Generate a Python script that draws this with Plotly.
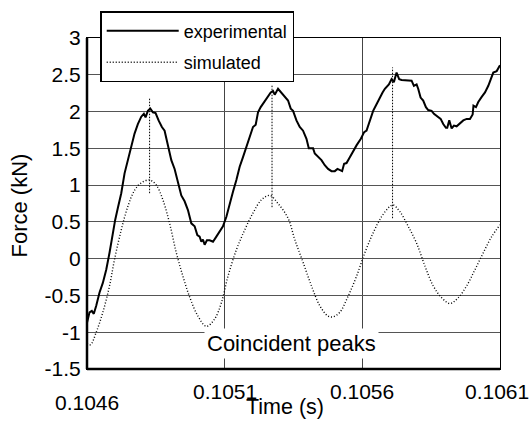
import plotly.graph_objects as go

# ---- data (time in s, force in kN) ----
t_exp = [0.10460, 0.1046091, 0.1046175, 0.1046247, 0.1046335, 0.1046455, 0.1046575, 0.1046698,
         0.1046818, 0.1046938, 0.1047025, 0.1047120, 0.1047244, 0.1047364, 0.1047484, 0.1047607,
         0.1047727, 0.1047847, 0.1047971, 0.1048065, 0.1048127, 0.1048211, 0.1048298, 0.1048393,
         0.1048491, 0.1048600, 0.1048720, 0.1048818, 0.1048938, 0.1049062, 0.1049182, 0.1049302,
         0.1049425, 0.1049545, 0.1049666, 0.1049789, 0.1049909, 0.1050007, 0.1050091, 0.1050153,
         0.1050211, 0.1050273, 0.1050356, 0.1050455, 0.1050575, 0.1050698, 0.1050818, 0.1050938,
         0.1051062, 0.1051182, 0.1051302, 0.1051425, 0.1051545, 0.1051666, 0.1051789, 0.1051909,
         0.1052029, 0.1052127, 0.1052211, 0.1052309, 0.1052429, 0.1052553, 0.1052673, 0.1052756,
         0.1052818, 0.1052938, 0.1053062, 0.1053182, 0.1053302, 0.1053400, 0.1053484, 0.1053607,
         0.1053727, 0.1053847, 0.1053971, 0.1054055, 0.1054211, 0.1054273, 0.1054393, 0.1054516,
         0.1054636, 0.1054756, 0.1054880, 0.1055000, 0.1055098, 0.1055182, 0.1055266, 0.1055338,
         0.1055426, 0.1055546, 0.1055666, 0.1055789, 0.1055946, 0.1056066, 0.1056153, 0.1056273,
         0.1056393, 0.1056516, 0.1056636, 0.1056735, 0.1056818, 0.1056880, 0.1056964, 0.1057062,
         0.1057145, 0.1057244, 0.1057338, 0.1057426, 0.1057546, 0.1057666, 0.1057789, 0.1057873,
         0.1057971, 0.1058029, 0.1058116, 0.1058211, 0.1058309, 0.1058393, 0.1058516, 0.1058600,
         0.1058720, 0.1058844, 0.1058938, 0.1059036, 0.1059084, 0.1059157, 0.1059244, 0.1059327,
         0.1059425, 0.1059546, 0.1059666, 0.1059789, 0.1059909, 0.1060007, 0.1060036, 0.1060127,
         0.1060211, 0.1060335, 0.1060455, 0.1060575, 0.1060698, 0.1060756, 0.1060880, 0.1061000]
f_exp = [-0.87, -0.73, -0.71, -0.75, -0.64, -0.46, -0.33, -0.15,
         0.08, 0.35, 0.53, 0.69, 0.89, 1.16, 1.34, 1.56,
         1.70, 1.83, 1.93, 1.97, 1.92, 2.01, 2.04, 1.99,
         1.98, 1.88, 1.79, 1.74, 1.56, 1.34, 1.22, 1.02,
         0.86, 0.78, 0.66, 0.48, 0.44, 0.32, 0.30, 0.23,
         0.26, 0.19, 0.25, 0.25, 0.23, 0.30, 0.37, 0.44,
         0.57, 0.75, 0.91, 1.07, 1.25, 1.38, 1.52, 1.68,
         1.79, 1.82, 1.99, 2.06, 2.13, 2.20, 2.26, 2.28,
         2.23, 2.31, 2.26, 2.21, 2.15, 2.04, 2.01, 1.88,
         1.79, 1.74, 1.63, 1.50, 1.50, 1.43, 1.38, 1.34,
         1.27, 1.22, 1.19, 1.19, 1.22, 1.21, 1.19, 1.29,
         1.30, 1.38, 1.47, 1.54, 1.63, 1.72, 1.74, 1.88,
         2.01, 2.10, 2.20, 2.26, 2.31, 2.33, 2.37, 2.44,
         2.40, 2.53, 2.44, 2.43, 2.43, 2.42, 2.42, 2.35,
         2.37, 2.31, 2.19, 2.15, 2.06, 2.02, 2.01, 1.97,
         1.93, 1.90, 1.83, 1.78, 1.78, 1.88, 1.77, 1.81,
         1.80, 1.84, 1.88, 1.90, 1.90, 1.96, 2.08, 2.06,
         2.13, 2.20, 2.26, 2.35, 2.46, 2.53, 2.55, 2.63]

t_sim = [0.10460, 0.1046127, 0.1046335, 0.1046575, 0.1046818, 0.1047000, 0.1047244, 0.1047484,
         0.1047727, 0.1047971, 0.1048273, 0.1048516, 0.1048756, 0.1049000, 0.1049244, 0.1049484,
         0.1049727, 0.1050029, 0.1050335, 0.1050636, 0.1050880, 0.1051120, 0.1051425, 0.1051727,
         0.1052029, 0.1052335, 0.1052636, 0.1052938, 0.1053302, 0.1053546, 0.1053847, 0.1054153,
         0.1054455, 0.1054756, 0.1054938, 0.1055182, 0.1055484, 0.1055789, 0.1056091, 0.1056393,
         0.1056698, 0.1057000, 0.1057120, 0.1057364, 0.1057666, 0.1057971, 0.1058273, 0.1058575,
         0.1058880, 0.1059182, 0.1059484, 0.1059789, 0.1060091, 0.1060393, 0.1060698, 0.1061000]
f_sim = [-1.15, -1.17, -1.00, -0.73, -0.37, -0.01, 0.39, 0.71,
         0.93, 1.03, 1.07, 1.00, 0.80, 0.48, 0.08, -0.24,
         -0.52, -0.78, -0.92, -0.82, -0.60, -0.24, 0.12, 0.39,
         0.62, 0.80, 0.86, 0.75, 0.55, 0.26, -0.05, -0.37,
         -0.64, -0.78, -0.79, -0.73, -0.51, -0.24, 0.08, 0.35,
         0.57, 0.71, 0.73, 0.64, 0.44, 0.21, -0.10, -0.37,
         -0.53, -0.61, -0.53, -0.37, -0.15, 0.08, 0.30, 0.46]

# coincident peak markers (time, upper force, lower force)
peak_t = [0.1048273, 0.1052720, 0.1057098]
peak_top = [2.19, 2.37, 2.60]
peak_bot = [0.89, 0.70, 0.55]

x_ticks = [0.1046, 0.1051, 0.1056, 0.1061]
x_tick_text = ["0.1046", "0.1051", "0.1056", "0.1061"]
y_ticks = [-1.5, -1, -0.5, 0, 0.5, 1, 1.5, 2, 2.5, 3]
y_tick_text = ["-1.5", "-1", "-0.5", "0", "0.5", "1", "1.5", "2", "2.5", "3"]

FONT = "Liberation Sans, Arial, sans-serif"

fig = go.Figure()
fig.add_trace(go.Scatter(x=t_exp, y=f_exp, mode="lines", name="experimental",
                         legendgroup="a",
                         line=dict(color="black", width=2)))
fig.add_trace(go.Scatter(x=t_sim, y=f_sim, mode="lines", name="simulated",
                         legendgroup="b",
                         line=dict(color="black", width=1.4, dash="1px,2px", shape="spline")))
for pt, top, bot in zip(peak_t, peak_top, peak_bot):
    fig.add_trace(go.Scatter(x=[pt, pt], y=[bot, top], mode="lines", showlegend=False,
                             hoverinfo="skip",
                             line=dict(color="black", width=1, dash="1.5px,1.5px")))

annotations = []
for i, (tv, tt) in enumerate(zip(x_ticks, x_tick_text)):
    annotations.append(dict(x=tv, y=0, xref="x", yref="paper", text=tt, showarrow=False,
                            xanchor="center", yanchor="middle",
                            yshift=-33 if i == 0 else -22,
                            xshift=-3 if i == 3 else 0,
                            font=dict(family=FONT, size=21, color="black")))
annotations.append(dict(x=0.48, y=0, xref="paper", yref="paper", text="Time (s)",
                        showarrow=False, xanchor="center", yanchor="middle", yshift=-38,
                        font=dict(family=FONT, size=21.5, color="black")))
annotations.append(dict(x=0, y=0.5, xref="paper", yref="paper", text="Force (kN)",
                        showarrow=False, textangle=-90, xanchor="center", yanchor="middle",
                        xshift=-68, yshift=-2,
                        font=dict(family=FONT, size=22, color="black")))
annotations.append(dict(x=0.5, y=0, xref="paper", yref="paper", text="Coincident peaks",
                        showarrow=False, xanchor="center", yanchor="middle", xshift=-2,
                        yshift=26, bgcolor="white", borderpad=2,
                        font=dict(family=FONT, size=22, color="black")))

fig.update_layout(
    width=531, height=429,
    margin=dict(l=87, r=31, t=37, b=60),
    paper_bgcolor="white", plot_bgcolor="white",
    font=dict(family=FONT, size=21, color="black"),
    showlegend=True,
    legend=dict(x=0.032, y=1.078, xanchor="left", yanchor="top",
                bgcolor="white", bordercolor="black", borderwidth=1.5,
                font=dict(family=FONT, size=18, color="black"),
                tracegroupgap=5, itemwidth=72),
    annotations=annotations,
    xaxis=dict(range=[0.1046, 0.1061], tickvals=x_ticks, showticklabels=False,
               showgrid=True, gridcolor="#444", gridwidth=1, zeroline=False,
               showline=True, linecolor="black", linewidth=1, mirror=True, ticks=""),
    yaxis=dict(range=[-1.5, 3], tickvals=y_ticks, ticktext=y_tick_text,
               showgrid=True, gridcolor="#555", gridwidth=1.2, zeroline=False,
               showline=True, linecolor="black", linewidth=1, mirror=True, ticks="",
               ticklabelstandoff=1,
               tickfont=dict(family=FONT, size=21, color="black")),
    shapes=[
        dict(type="line", xref="paper", yref="paper", x0=0, x1=0, y0=0, y1=1,
             line=dict(color="black", width=2.5)),
        dict(type="line", xref="paper", yref="paper", x0=0, x1=1, y0=0, y1=0,
             line=dict(color="black", width=2.5)),
    ],
)

fig.write_html("out.html")
